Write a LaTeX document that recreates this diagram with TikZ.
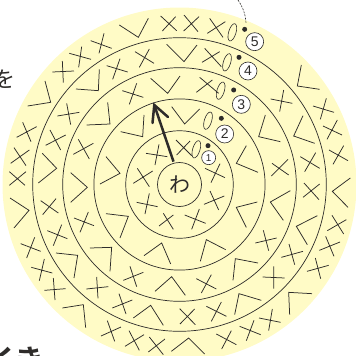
\documentclass[tikz,border=0pt]{standalone}
\usepackage{fontspec}
\setmainfont{Liberation Sans}
\newfontfamily\jp{Noto Sans CJK JP}[BoldFont={Noto Sans CJK JP Bold}]
\definecolor{ink}{HTML}{2E2C2A}
\definecolor{pale}{HTML}{FFFBC6}
\tikzset{
  mk/.style={draw=ink,line width=0.75pt},
  ringl/.style={draw=ink,line width=0.7pt},
  zero/.style={draw=ink,line width=0.6pt},
  dotm/.style={circle,fill=ink,inner sep=0pt,minimum size=5pt},
  badge/.style={circle,draw=ink,fill=white,line width=0.6pt,inner sep=0pt,minimum size=#1,text=ink,font=\fontsize{14}{14}\selectfont},
  zq/.style={x=0.33333pt,y=-0.33333pt}
}
\newcommand{\zeromark}[2]{\draw[zero,shift={(#1,#2)},rotate=-17] (0,0) ellipse (11 and 27);}
\begin{document}
\begin{tikzpicture}[x=1pt,y=-1pt]
\useasboundingbox (0,0) rectangle (356,356);
\clip (0,0) rectangle (356,356);
\fill[pale] (179.5,184.5) circle (177pt);
\foreach \r in {53.8,85.6,116.8,146.8} \draw[ringl] (179.5,184.5) circle (\r pt);
\node[circle,ringl,fill=pale,minimum size=44pt,inner sep=0pt,font=\jp\fontsize{21}{21}\selectfont,text=ink] (wa) at (179.5,184.5) {わ};
\node[font=\jp\fontsize{22}{22}\selectfont,text=ink] (wo) at (5,79) {を};
\node[font=\jp\bfseries\fontsize{30}{30}\selectfont,text=ink,anchor=north] (ki) at (14,343) {イき};
% top-left quadrant
\begin{scope}[shift={(0,0)},zq]
\draw[mk] (358,75)--(415,112)--(445,55)
 (482,48)--(530,92) (487,93)--(527,50)
 (272,122)--(335,145) (312,100)--(297,160)
 (208,160)--(273,178) (245,140)--(236,202)
 (157,216)--(222,213) (187,183)--(190,248)
 (83,318)--(152,307)--(135,243)
 (50,412)--(110,380) (68,367)--(93,425)
 (32,490)--(88,450) (42,443)--(78,497)
 (28,515)--(75,556) (78,515)--(28,556)
 (405,155)--(462,190) (448,147)--(418,202)
 (500,133)--(552,185)--(591,135)
 (320,197)--(383,216) (360,176)--(338,238)
 (228,267)--(295,272)--(298,208)
 (172,348)--(238,337) (200,310)--(212,374)
 (137,436)--(197,405) (150,390)--(182,450)
 (127,460)--(170,505)--(115,549)
 (212,518)--(262,562)--(212,607)
 (260,375)--(330,372)--(323,307)
 (220,463)--(280,430) (235,418)--(268,477)
 (452,235)--(503,280)--(540,228)
 (367,272)--(430,292) (410,250)--(388,313)
 (362,395)--(428,410)--(432,345)
 (515,320)--(554,372)--(599,327)
 (318,470)--(360,520)--(300,552);
\end{scope}
% top-right quadrant
\begin{scope}[shift={(178,0)},zq]
\draw[mk] (18,45)--(60,95) (17,93)--(63,50)
 (95,55)--(135,112) (88,100)--(142,65)
 (80,145)--(130,200) (72,187)--(125,155)
 (65,232)--(122,280) (55,277)--(103,240)
 (205,437)--(175,490)--(240,517)
 (262,345)--(242,410)--(307,425)
 (282,490)--(332,525) (280,528)--(330,478)
 (370,195)--(358,258)--(425,268)
 (405,318)--(468,337) (445,295)--(427,358)
 (435,378)--(492,405) (478,360)--(447,418)
 (453,450)--(510,482) (497,437)--(465,493)
 (375,347)--(347,408)--(410,430)
 (278,297)--(343,310) (317,270)--(305,335)
 (367,470)--(425,505) (413,458)--(380,515);
\zeromark{163}{97}
\zeromark{147}{187}
\zeromark{128}{272}
\zeromark{90}{362}
\zeromark{55}{448}
\node[dotm] (d5) at (200,88) {};
\node[dotm] (d4) at (183,172) {};
\node[dotm] (d3) at (167,270) {};
\node[dotm] (d2) at (130,355) {};
\node[dotm] (d1) at (90,437) {};
\node[badge=18pt] (n5) at (230,125) {5};
\node[badge=18pt] (n4) at (210,213) {4};
\node[badge=18pt] (n3) at (190,313) {3};
\node[badge=18pt] (n2) at (140,402) {2};
\node[badge=14pt,font=\fontsize{10}{10}\selectfont] (n1) at (92,473) {1};
\coordinate (lt) at (180,0);
\coordinate (lb) at (204,68);
\draw[ink,line width=0.6pt,dash pattern=on 2pt off 1.2pt] (lt) .. controls (195,22) and (203,45) .. (lb);
\end{scope}
% bottom-left quadrant
\begin{scope}[shift={(0,178)},zq]
\draw[mk] (122,68)--(175,105) (168,62)--(128,110)
 (142,158)--(202,182) (185,140)--(160,203)
 (30,60)--(87,97)--(42,150)
 (62,197)--(122,220) (104,178)--(80,240)
 (94,268)--(157,285) (133,243)--(118,308)
 (133,337)--(197,332) (160,300)--(165,366)
 (187,390)--(250,380)--(257,449)
 (168,225)--(233,232)--(222,300)
 (259,333)--(325,326) (290,297)--(294,361)
 (337,390)--(397,366) (357,347)--(378,408)
 (400,420)--(452,382)--(490,442)
 (303,474)--(363,447) (322,428)--(344,490)
 (375,505)--(432,470) (387,458)--(418,517)
 (445,522)--(495,483) (448,477)--(490,530)
 (222,120)--(282,143) (265,102)--(240,163)
 (270,210)--(335,208)--(330,280)
 (318,107)--(385,115)--(360,180)
 (370,307)--(430,283) (390,265)--(410,326)
 (465,340)--(515,296)--(556,352)
 (432,233)--(485,195)--(512,258);
\end{scope}
% bottom-right quadrant
\begin{scope}[shift={(178,178)},zq]
\draw[mk] (-20,520)--(32,480)--(80,528)
 (517,0)--(463,40)--(510,88)
 (375,58)--(425,18) (378,15)--(423,65)
 (418,113)--(355,145)--(388,200)
 (310,238)--(375,220) (333,198)--(350,260)
 (254,297)--(320,300) (287,265)--(287,332)
 (250,367)--(183,347)--(170,410)
 (85,385)--(145,415) (130,372)--(100,430)
 (5,392)--(52,440) (50,393)--(6,438)
 (448,158)--(505,125) (462,112)--(497,168)
 (424,217)--(486,192) (443,175)--(468,235)
 (387,280)--(452,262) (412,240)--(428,302)
 (402,347)--(332,343)--(335,410)
 (243,420)--(308,433) (283,393)--(272,458)
 (185,445)--(248,470) (228,427)--(205,488)
 (115,468)--(175,500) (160,458)--(131,513)
 (238,72)--(175,88)--(205,148)
 (337,38)--(277,72)--(316,127)
 (232,195)--(296,180) (256,157)--(272,218)
 (143,215)--(85,185)--(67,250)
 (55,302)--(115,333) (100,290)--(70,345)
 (240,255)--(172,242)--(165,307);
\end{scope}
% inner ring
\begin{scope}[shift={(110,115)},zq]
\draw[mk] (198,75)--(245,122) (200,120)--(240,78)
 (108,115)--(172,125) (147,88)--(135,150)
 (70,205)--(128,168) (82,160)--(118,215)
 (80,262)--(143,275) (118,235)--(105,297)
 (147,333)--(190,300) (160,295)--(190,343)
 (224,300)--(287,325) (268,282)--(245,343)
 (282,268)--(343,243) (300,228)--(326,285)
 (285,160)--(345,188) (330,146)--(303,203);
\end{scope}
\coordinate (arrowtip) at (154.3,105);
\draw[ink,line width=2.5pt] (wa.north) ++(-6,-0.5) -- (arrowtip);
\draw[ink,line width=2.5pt,line cap=round] (152.5,123) -- (arrowtip) -- (168,117);
\end{tikzpicture}
\end{document}
